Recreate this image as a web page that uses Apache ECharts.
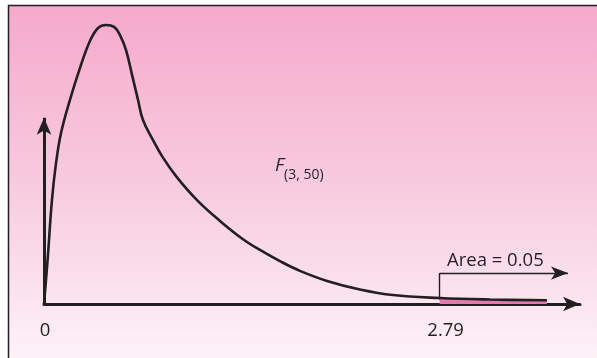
<!DOCTYPE html>
<html>
<head>
<meta charset="utf-8">
<script src="https://cdn.jsdelivr.net/npm/echarts@6/dist/echarts.min.js"></script>
<style>
html,body{margin:0;padding:0;background:#fff;}
#c{width:597px;height:358px;}
</style>
</head>
<body>
<div id="c"></div>
<script>
// Curve of F(3, 50) density as drawn (x in F units, y in density units)
const curveX = [0, 0.014, 0.028, 0.056, 0.083, 0.120, 0.183, 0.254, 0.324, 0.381, 0.437, 0.494, 0.536, 0.578, 0.621, 0.663, 0.698, 0.769, 0.839, 0.938, 1.079, 1.241, 1.396, 1.523, 1.664, 1.805, 1.996, 2.228, 2.461, 2.79, 3.145, 3.547];
const curveY = [0, 0.064, 0.132, 0.279, 0.373, 0.459, 0.548, 0.634, 0.706, 0.741, 0.749, 0.744, 0.722, 0.682, 0.615, 0.548, 0.494, 0.440, 0.393, 0.340, 0.279, 0.223, 0.176, 0.145, 0.115, 0.089, 0.062, 0.039, 0.024, 0.016, 0.012, 0.010];
const criticalValue = 2.79;
const tailArea = 0.05;
const tickLabels = [0, 2.79];
const distLabel = ['F', '(3, 50)'];
const areaLabel = 'Area = ' + tailArea.toFixed(2);

const curve = curveX.map((x, i) => [x, curveY[i]]);
const tail = curve.filter(p => p[0] >= criticalValue);

const ink = '#231f20';
const font = '"Open Sans", sans-serif';

const chart = echarts.init(document.getElementById('c'), null, {renderer: 'canvas'});
chart.setOption({
  animation: false,
  grid: {left: 44, right: 17, top: 6, bottom: 54},
  xAxis: {
    type: 'value', min: 0, max: 3.78,
    axisLine: {show: true, onZero: false, symbol: ['none', 'arrow'], symbolSize: [11, 17], lineStyle: {color: ink, width: 3}},
    axisTick: {show: false},
    splitLine: {show: false},
    axisLabel: {customValues: tickLabels, color: ink, fontFamily: font, fontSize: 18.5, margin: 17,
      formatter: v => (v === 0 ? '{z|0}' : '{c|' + v + '}'),
      rich: {
        z: {color: ink, fontFamily: font, fontSize: 18.5, padding: [0, 0, 0, 2]},
        c: {color: ink, fontFamily: font, fontSize: 18.5, padding: [0, 0, 0, 12]}
      }}
  },
  yAxis: {type: 'value', min: 0, max: 0.8, show: false},
  graphic: [
    {type: 'rect', z: -10, shape: {x: 8.5, y: 5.5, width: 620, height: 380},
     style: {fill: new echarts.graphic.LinearGradient(0, 0, 0, 1, [
        {offset: 0, color: '#f5a9cb'},
        {offset: 0.5, color: '#f8cde0'},
        {offset: 1, color: '#fef8fb'}]), stroke: ink, lineWidth: 1.5}},
    {type: 'text', z: 10, x: 275, y: 166, style: {text: distLabel[0], font: 'italic 19px ' + font, fill: ink, textVerticalAlign: 'middle'}},
    {type: 'text', z: 10, x: 284, y: 175, style: {text: distLabel[1], font: '14px ' + font, fill: ink, textVerticalAlign: 'middle'}},
    {type: 'text', z: 10, x: 447, y: 261, style: {text: areaLabel, font: '18.5px ' + font, fill: ink, textVerticalAlign: 'middle'}}
  ],
  series: [
    {
      type: 'line', data: tail, showSymbol: false, silent: true, z: 1,
      lineStyle: {width: 0}, areaStyle: {color: '#e678b0', opacity: 1},
      smooth: 0.4
    },
    {
      type: 'line', data: curve, showSymbol: false, silent: true, z: 3,
      smooth: 0.4,
      lineStyle: {color: ink, width: 2.6},
      markLine: {
        silent: true, animation: false,
        label: {show: false},
        data: [
          [{coord: [0, 0], symbol: 'none', lineStyle: {color: ink, width: 3, type: 'solid'}},
           {coord: [0, 0.5], symbol: 'arrow', symbolSize: [11, 17]}],
          [{coord: [criticalValue, 0.012], symbol: 'none', lineStyle: {color: ink, width: 1.4, type: 'solid'}},
           {coord: [criticalValue, 0.083], symbol: 'none'}],
          [{coord: [criticalValue, 0.083], symbol: 'none', lineStyle: {color: ink, width: 1.4, type: 'solid'}},
           {coord: [3.695, 0.083], symbol: 'arrow', symbolSize: [10, 17]}]
        ]
      }
    }
  ]
});
</script>
</body>
</html>
